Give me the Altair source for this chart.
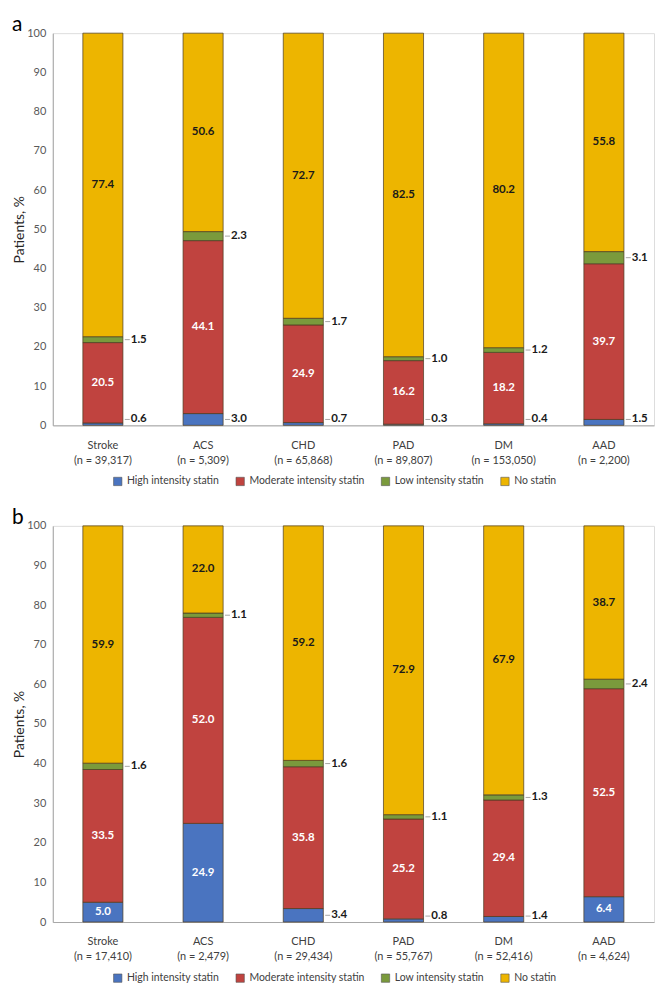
import altair as alt
import pandas as pd

categories = ["Stroke", "ACS", "CHD", "PAD", "DM", "AAD"]
n_a = ["39,317", "5,309", "65,868", "89,807", "153,050", "2,200"]
n_b = ["17,410", "2,479", "29,434", "55,767", "52,416", "4,624"]
series = ["High intensity statin", "Moderate intensity statin", "Low intensity statin", "No statin"]
colors = ["#4A74C0", "#C0433F", "#7A9A3C", "#EDB500"]

high_a = [0.6, 3.0, 0.7, 0.3, 0.4, 1.5]
mod_a = [20.5, 44.1, 24.9, 16.2, 18.2, 39.7]
low_a = [1.5, 2.3, 1.7, 1.0, 1.2, 3.1]
none_a = [77.4, 50.6, 72.7, 82.5, 80.2, 55.8]

high_b = [5.0, 24.9, 3.4, 0.8, 1.4, 6.4]
mod_b = [33.5, 52.0, 35.8, 25.2, 29.4, 52.5]
low_b = [1.6, 1.1, 1.6, 1.1, 1.3, 2.4]
none_b = [59.9, 22.0, 59.2, 72.9, 67.9, 38.7]

FONT = "Lato"
W = 604


def build(ns, vals):
    rows = []
    for i, c in enumerate(categories):
        lab = f"{c}|(n = {ns[i]})"
        base = 0.0
        for s, arr in zip(series, vals):
            v = arr[i]
            top = min(base + v, 100.0)
            mid = (base + top) / 2
            if s == "No statin":
                kind = "dark"
            elif s == "Low intensity statin":
                kind = "out"
            elif s == "High intensity statin" and v < 5:
                kind = "out"
            else:
                kind = "white"
            rows.append(dict(cat=lab, series=s, y0=base, y1=top, mid=mid,
                             lab_y=max(mid, 1.5) if kind == "out" else mid,
                             text=f"{v:.1f}", kind=kind))
            base = top
    return pd.DataFrame(rows)


XAXIS = alt.Axis(title=None, labelExpr="split(datum.label, '|')", labelAngle=0,
                 ticks=False, domainColor="#A6A6A6", domainWidth=1,
                 labelFontSize=11, labelLineHeight=15, labelPadding=14,
                 labelColor="#404040", labelFont=FONT)
YAXIS = alt.Axis(title="Patients, %", values=list(range(0, 101, 10)), grid=False,
                 ticks=False, domainColor="#A6A6A6", domainWidth=1, labelOverlap=False,
                 labelFontSize=11, labelColor="#595959", labelPadding=7,
                 titleFontSize=14, titleFontWeight="normal", titleColor="#262626",
                 titlePadding=0, labelFont=FONT, titleFont=FONT)


def panel(letter, ns, vals, height):
    df = build(ns, vals)
    labels = [f"{c}|(n = {ns[i]})" for i, c in enumerate(categories)]
    xscale = alt.Scale(domain=labels, paddingInner=0.6, paddingOuter=0.3)
    yscale = alt.Scale(domain=[0, 100], nice=False, clamp=True)
    xs = alt.X("cat:N", scale=xscale, sort=labels, axis=XAXIS)
    ys = lambda f: alt.Y(f, scale=yscale, axis=YAXIS)
    base = alt.Chart(df)
    bars = base.mark_bar(stroke="#4a3a20", strokeWidth=0.7).encode(
        x=xs,
        y=ys("y0:Q"),
        y2="y1:Q",
        color=alt.Color("series:N", scale=alt.Scale(domain=series, range=colors),
                        legend=alt.Legend(title=None, orient="none", legendX=60, legendY=height + 51,
                                          direction="horizontal", columns=4, symbolType="square",
                                          symbolSize=70, symbolStrokeWidth=0.6,
                                          symbolStrokeColor="#555555", labelFontSize=10.5,
                                          labelColor="#404040", columnPadding=14, labelFont=FONT)),
    )
    white = base.transform_filter("datum.kind == 'white'").mark_text(
        color="white", fontWeight="bold", fontSize=11.5, font=FONT).encode(
        x=xs, y=ys("mid:Q"), text="text:N")
    dark = base.transform_filter("datum.kind == 'dark'").mark_text(
        color="#1a1a1a", fontWeight="bold", fontSize=11.5, font=FONT).encode(
        x=xs, y=ys("mid:Q"), text="text:N")
    out = base.transform_filter("datum.kind == 'out'").mark_text(
        color="#1a1a1a", fontWeight="bold", fontSize=11.5, align="left", dx=28, font=FONT).encode(
        x=xs, y=ys("lab_y:Q"), text="text:N")
    leader = base.transform_filter("datum.kind == 'out'").mark_rule(
        color="#A6A6A6", strokeWidth=1, xOffset=22, x2Offset=27).encode(
        x=xs, x2="cat:N", y=ys("lab_y:Q"))
    tag = alt.Chart(pd.DataFrame({"t": [letter]})).mark_text(
        fontSize=21, align="left", baseline="alphabetic", color="black", font=FONT).encode(
        text="t:N", x=alt.value(-41), y=alt.value(-2))
    return alt.layer(bars, leader, white, dark, out, tag).properties(width=W, height=height)


chart = alt.vconcat(
    panel("a", n_a, [high_a, mod_a, low_a, none_a], 394),
    panel("b", n_b, [high_b, mod_b, low_b, none_b], 398),
    spacing=18,
).resolve_scale(color="independent", x="independent").configure_view(stroke=None).configure(
    font=FONT).properties(padding={"top": 3, "left": 3, "right": 0, "bottom": 0})

chart.save("out.html", embed_options={"renderer": "svg", "actions": False})
